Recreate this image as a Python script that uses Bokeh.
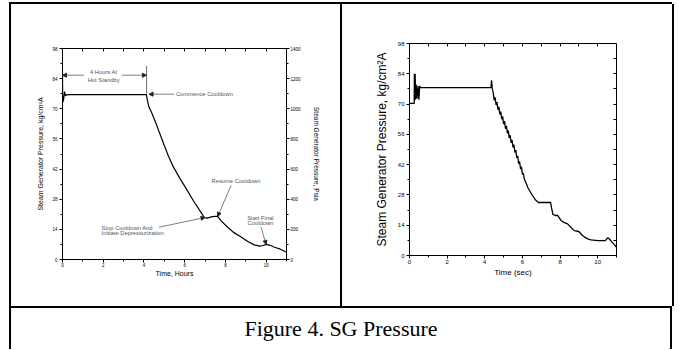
from bokeh.plotting import figure
from bokeh.models import (LinearAxis, Range1d, FixedTicker, Arrow, NormalHead,
                          Div, Label, CustomJSTickFormatter, Spacer)
from bokeh.layouts import row, column
from bokeh.embed import file_html
from bokeh.resources import INLINE

FONT = "Liberation Sans"

# ---------------- data ----------------
# Left panel: SG pressure vs time (hours), kg/cm2A
left_hours = [0.0, 0.01, 0.05, 0.10, 0.15, 0.25, 4.12, 4.17, 4.25, 4.35, 4.42, 4.58,
              4.75, 4.99, 5.20, 5.45, 5.75, 6.03, 6.42, 6.85, 6.96, 7.10, 7.30, 7.50,
              7.62, 7.80, 8.11, 8.40, 8.77, 9.10, 9.42, 9.68, 9.85, 10.00, 10.20,
              10.41, 10.70, 11.00]
left_kg = [85.5, 73.0, 74.0, 78.0, 76.0, 76.6, 76.6, 73.9, 70.7, 68.8, 67.2, 63.5,
           59.2, 53.2, 48.1, 42.9, 37.9, 33.6, 27.4, 21.2, 19.5, 19.2, 19.8, 20.0,
           20.0, 17.8, 15.0, 12.6, 10.4, 8.4, 6.8, 6.2, 6.5, 7.0, 6.6,
           5.7, 4.8, 3.4]

# Right panel: SG pressure vs time (sec), kg/cm2A
right_time = [0.0, 0.25, 0.26, 0.28, 0.30, 0.32, 0.35, 0.40, 0.45, 0.50, 0.54, 0.58,
              4.33, 4.36, 4.40, 4.45, 4.50, 4.55, 4.60, 4.65, 4.70, 4.75, 4.80, 4.85,
              4.90, 4.95, 5.00, 5.05, 5.10, 5.15, 5.20, 5.25, 5.30, 5.35, 5.40, 5.45,
              5.50, 5.55, 5.60, 5.65, 5.70, 5.75, 5.80, 5.85, 5.90, 5.95, 6.00, 6.05,
              6.10, 6.20, 6.30, 6.50, 6.70, 6.85, 7.50, 7.55, 7.62, 7.75, 7.87, 8.05,
              8.20, 8.40, 8.60, 8.76, 9.00, 9.15, 9.30, 9.50, 9.65, 10.00, 10.40,
              10.54, 10.65, 10.76, 10.90, 11.00]
right_kg = [70.3, 70.3, 84.0, 73.0, 84.0, 72.0, 79.0, 72.5, 78.5, 72.0, 78.3, 77.6,
            77.6, 81.0, 77.0, 75.2, 71.8, 73.1, 69.6, 70.9, 67.4, 68.7, 65.2, 66.5,
            63.0, 64.3, 60.8, 62.1, 58.6, 59.9, 56.5, 57.8, 54.3, 55.6, 52.1, 53.4,
            50.0, 51.2, 47.6, 48.7, 45.1, 46.1, 42.4, 43.5, 40.0, 41.0, 37.5, 38.0,
            35.4, 33.4, 31.2, 28.2, 25.6, 24.5, 24.5, 22.0, 19.0, 18.5, 18.5, 16.2,
            15.3, 14.6, 12.8, 11.5, 11.1, 9.6, 8.5, 7.6, 7.2, 6.9, 6.9,
            8.2, 7.4, 6.2, 4.9, 3.8]

kg_ticks = [0, 14, 28, 42, 56, 70, 84, 98]
kg_minor = [7, 21, 35, 49, 63, 77, 91]
kg_frame = [7, 14, 21, 28, 35, 42, 49, 56, 63, 70, 77, 84, 91]
psia_ticks = [0, 200, 400, 600, 800, 1000, 1200, 1400]
psia_minor = [100, 300, 500, 700, 900, 1100, 1300]
time_ticks = [0, 2, 4, 6, 8, 10]
time_minor = [1, 3, 5, 7, 9, 11]
time_frame = [1, 2, 3, 4, 5, 6, 7, 8, 9, 10]

# annotations of the left panel
ann_text = ["4 Hours At", "Hot Standby", "Commence Cooldown", "Resume Cooldown",
            "Stop Cooldown And", "Initiate Depressurization", "Start Final", "Cooldown"]
ann_x = [2.02, 2.02, 5.57, 8.52, 1.92, 1.92, 9.72, 9.72]
ann_y = [86.9, 83.6, 76.8, 36.4, 14.5, 12.4, 19.4, 17.0]
ann_align = ["center", "center", "left", "center", "left", "left", "center", "center"]

arrow_x0 = [1.05, 2.90, 5.48, 8.28, 4.74, 9.75]
arrow_y0 = [85.6, 85.6, 76.8, 34.4, 15.0, 15.0]
arrow_x1 = [0.00, 4.12, 4.25, 7.62, 7.00, 10.00]
arrow_y1 = [85.6, 85.6, 76.8, 20.0, 19.5, 7.0]

marker_x0 = [4.13]
marker_y0 = [90.0]
marker_x1 = [4.13]
marker_y1 = [77.0]


def style_axis(ax, tick_size, label_size, standoff, label_standoff):
    ax.axis_line_color = "black"
    ax.axis_line_width = 1
    ax.major_tick_line_color = "black"
    ax.minor_tick_line_color = "black"
    ax.major_tick_in = 0
    ax.major_tick_out = 3
    ax.minor_tick_in = 0
    ax.minor_tick_out = 2
    ax.major_label_text_font = FONT
    ax.major_label_text_font_size = tick_size
    ax.major_label_text_color = "black"
    ax.major_label_standoff = standoff
    ax.axis_label_text_font = FONT
    ax.axis_label_text_font_size = label_size
    ax.axis_label_text_font_style = "normal"
    ax.axis_label_text_color = "black"
    ax.axis_label_standoff = label_standoff


def frame_ticks(p, loc, ticks):
    ax = LinearAxis(ticker=FixedTicker(ticks=ticks, minor_ticks=[]),
                    formatter=CustomJSTickFormatter(code="return ''"),
                    major_tick_in=3, major_tick_out=0,
                    major_tick_line_color="black",
                    minor_tick_line_color=None, axis_line_color=None,
                    major_label_standoff=0, major_label_text_font_size="1px")
    p.add_layout(ax, loc)


def make_fig(w, h, bl, br, bt, bb):
    p = figure(width=w, height=h, x_range=Range1d(0, 11), y_range=Range1d(0, 98),
               output_backend="svg", toolbar_location=None, title=None,
               min_border_left=bl, min_border_right=br,
               min_border_top=bt, min_border_bottom=bb)
    p.xgrid.visible = False
    p.ygrid.visible = False
    p.outline_line_color = "black"
    p.outline_line_width = 1
    p.outline_line_alpha = 1
    p.background_fill_color = "white"
    p.border_fill_color = "white"
    return p


# ---------------- left panel ----------------
p1 = make_fig(329, 302, 51, 54, 44, 47)
p1.xaxis.ticker = FixedTicker(ticks=time_ticks, minor_ticks=time_minor)
p1.xaxis.axis_label = "Time, Hours"
p1.yaxis.ticker = FixedTicker(ticks=kg_ticks, minor_ticks=kg_minor)
p1.yaxis.axis_label = "Steam Generator Pressure, kg/cm\u00b2A"
style_axis(p1.xaxis[0], "4.5px", "7px", 0, 0)
style_axis(p1.yaxis[0], "4.5px", "7px", 2, 5)

p1.extra_y_ranges = {"psia": Range1d(0, 1400)}
rax = LinearAxis(y_range_name="psia",
                 ticker=FixedTicker(ticks=psia_ticks, minor_ticks=psia_minor),
                 axis_label="Steam Generator Pressure, Psia")
style_axis(rax, "4.5px", "6.5px", 1, 9)
p1.add_layout(rax, "right")
frame_ticks(p1, "above", time_frame)

p1.line(left_hours, left_kg, line_color="black", line_width=1.2)
p1.segment(marker_x0, marker_y0, marker_x1, marker_y1, line_color="#707070", line_width=1)
for x0, y0, x1, y1 in zip(arrow_x0, arrow_y0, arrow_x1, arrow_y1):
    p1.add_layout(Arrow(end=NormalHead(size=4, fill_color="#222222", line_color="#222222"),
                        x_start=x0, y_start=y0, x_end=x1, y_end=y1,
                        line_color="#707070", line_width=0.9))
for t, x, y, a in zip(ann_text, ann_x, ann_y, ann_align):
    p1.add_layout(Label(x=x, y=y, text=t, text_font=FONT, text_font_size="5.8px",
                        text_color="#555555", text_align=a, text_baseline="middle"))

# ---------------- right panel ----------------
p2 = make_fig(330, 302, 67, 56, 39, 51)
p2.xaxis.ticker = FixedTicker(ticks=time_ticks, minor_ticks=time_minor)
p2.xaxis.axis_label = "Time (sec)"
p2.yaxis.ticker = FixedTicker(ticks=kg_ticks, minor_ticks=kg_minor)
p2.yaxis.axis_label = "Steam Generator Pressure, kg/cm\u00b2A"
style_axis(p2.xaxis[0], "6px", "8px", 1, 1)
style_axis(p2.yaxis[0], "6px", "12px", 2, 6)
frame_ticks(p2, "above", time_frame)
frame_ticks(p2, "right", kg_frame)
p2.line(right_time, right_kg, line_color="black", line_width=1.3)

# ---------------- caption ----------------
cap = figure(width=659, height=41, x_range=Range1d(0, 1), y_range=Range1d(0, 1),
             output_backend="svg", toolbar_location=None, min_border=0, title=None,
             x_axis_type=None, y_axis_type=None)
cap.outline_line_color = None
cap.xgrid.visible = False
cap.ygrid.visible = False
cap.add_layout(Label(x=329.5, y=21, x_units="screen", y_units="screen",
                     text="Figure 4. SG Pressure", text_font="Liberation Serif",
                     text_font_size="22px", text_color="black",
                     text_align="center", text_baseline="alphabetic"))


def bar(w, h):
    return Div(text="", width=w, height=h, margin=0,
               styles={"background-color": "black"})


table = column(
    bar(663, 2),
    row(bar(2, 302), column(p1, spacing=0), bar(2, 302),
        column(p2, spacing=0), bar(2, 302), spacing=0),
    bar(663, 2),
    row(bar(2, 41), cap, bar(2, 41), spacing=0),
    spacing=0,
)

layout = row(Spacer(width=9, height=10, margin=0),
             column(Spacer(width=10, height=2, margin=0), table, spacing=0),
             spacing=0)

open("out.html", "w").write(file_html(layout, INLINE))
